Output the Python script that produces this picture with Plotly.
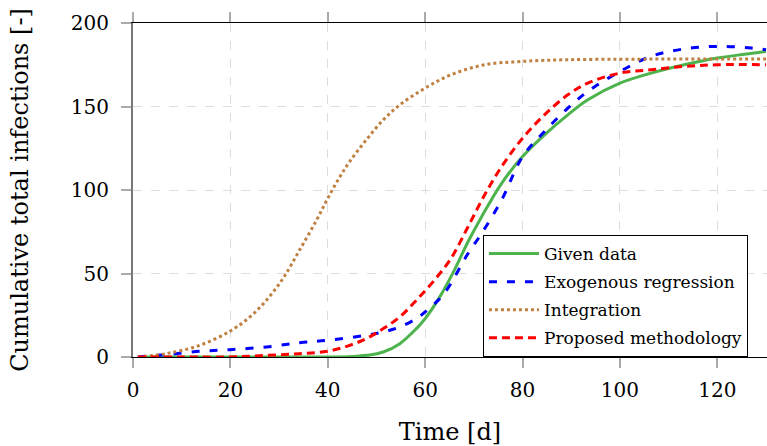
import plotly.graph_objects as go

# ---- data ----
given_x = [1, 10, 20, 30, 40, 45, 48, 51.4, 54.8, 58.2, 60, 63, 66, 68.8, 71.6, 75.7, 80, 84.5, 89.3, 93.4, 100, 106.4, 113.2, 120, 130]
given_y = [0, 0, 0, 0, 0, 0.3, 1, 3, 8, 17, 23, 36, 52, 69, 84, 104, 120, 133, 145, 154, 164, 170, 175, 179, 183]

exo_x = [1, 6.8, 13.7, 20, 27.4, 34.2, 40, 47.9, 51.4, 54.8, 58.2, 60, 63.9, 68.8, 71.6, 75.7, 80, 84.5, 89.3, 93.4, 100, 106.4, 113.2, 120, 127, 130]
exo_y = [0, 1.4, 3.4, 4.4, 6, 8.6, 10, 13, 15, 18, 23, 27, 38, 62, 74, 94, 120, 135, 149, 159, 171, 180, 184.5, 186, 185, 184]

integ_x = [1, 6.8, 13.7, 20, 24, 27.4, 30.8, 34.2, 37.7, 40, 42.5, 44.5, 47.9, 51.4, 54.8, 60, 65.3, 72.2, 80, 89, 100, 110, 120, 130]
integ_y = [0, 2, 7, 15.6, 24, 34, 47, 64, 82, 95, 108, 117, 130, 142, 151, 161, 169, 175, 177, 178, 178.3, 178.4, 178.4, 178.4]

prop_x = [1, 10, 20, 27.4, 34.2, 40, 44.5, 47.9, 51.4, 54.8, 58.2, 61.6, 65.3, 68.8, 72.2, 75.7, 80, 84.5, 89.3, 93.4, 100, 106.4, 113.2, 120, 130]
prop_y = [0, 0, 0, 1, 2, 3.4, 7, 11, 17, 24, 34, 45, 59, 78, 97, 114, 131, 145, 157, 164, 170, 172, 174, 175, 175]

x_ticks = [0, 20, 40, 60, 80, 100, 120]
y_ticks = [0, 50, 100, 150, 200]

FONT = "DejaVu Serif"

fig = go.Figure()
fig.add_trace(go.Scatter(x=given_x, y=given_y, mode="lines", name="Given data",
                         line=dict(color="#4db34d", width=3, shape="spline"), legendgroup="a"))
fig.add_trace(go.Scatter(x=exo_x, y=exo_y, mode="lines", name="Exogenous regression",
                         line=dict(color="#0000ff", width=3, dash="8px,10px", shape="spline"), legendgroup="b"))
fig.add_trace(go.Scatter(x=integ_x, y=integ_y, mode="lines", name="Integration",
                         line=dict(color="#bf8040", width=3, dash="3px,3px", shape="spline"), legendgroup="c"))
fig.add_trace(go.Scatter(x=prop_x, y=prop_y, mode="lines", name="Proposed methodology",
                         line=dict(color="#ff0000", width=3, dash="8px,5px", shape="spline"), legendgroup="d"))

fig.update_layout(
    width=767, height=446,
    margin=dict(l=133, r=0, t=23, b=89, autoexpand=False),
    paper_bgcolor="white", plot_bgcolor="white",
    font=dict(family=FONT, size=20, color="black"),
    showlegend=True,
    legend=dict(x=0.552, xanchor="left", y=0, yanchor="bottom",
                bgcolor="white", bordercolor="black", borderwidth=1,
                font=dict(family=FONT, size=17), tracegroupgap=3, itemwidth=50),
    xaxis=dict(range=[0, 130.2], tickvals=x_ticks, ticks="outside", ticklen=10,
               tickcolor="#aaaaaa", tickwidth=1.5, automargin=False, ticklabelstandoff=5,
               showline=True, linecolor="black", linewidth=1, mirror="ticks",
               showgrid=True, gridcolor="#dddddd", griddash="dash", gridwidth=1,
               zeroline=False, layer="below traces",
               title=dict(text="Time [d]", standoff=28)),
    yaxis=dict(range=[0, 200], tickvals=y_ticks, ticks="outside", ticklen=10,
               tickcolor="#aaaaaa", tickwidth=1.5, automargin=False, ticklabelstandoff=8,
               showline=True, linecolor="#777777", linewidth=2,
               showgrid=True, gridcolor="#dddddd", griddash="dash", gridwidth=1,
               zeroline=False, layer="below traces",
               title=dict(text="Cumulative total infections [-]", standoff=35)),
)

fig.write_html("out.html", config={"displayModeBar": False},
               post_script="document.body.style.margin='0';")
